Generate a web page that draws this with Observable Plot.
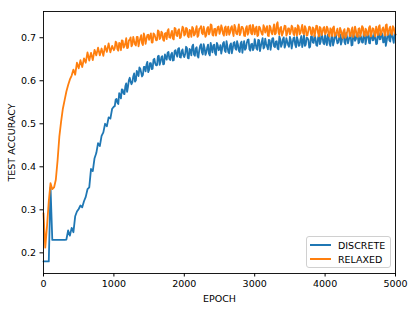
<!DOCTYPE html>
<html>
<head>
<meta charset="utf-8">
<script src="https://cdn.jsdelivr.net/npm/d3@7"></script>
<script src="https://cdn.jsdelivr.net/npm/@observablehq/plot@0.6"></script>
<style>
  html, body { margin: 0; padding: 0; background: #fff; }
  #wrap { position: relative; width: 415px; height: 310px; font-family: "DejaVu Sans", sans-serif; }
  #legend {
    position: absolute; left: 306px; top: 236px; width: 85px; height: 32px;
    border: 1px solid #d0d0d0; border-radius: 3px; background: rgba(255,255,255,0.85);
    box-sizing: border-box; font-size: 9.5px; color: #000;
  }
  .row { position: absolute; left: 0; height: 12px; display: flex; align-items: center; }
  .sw { width: 21px; height: 0; border-top: 2px solid; margin-left: 3px; margin-right: 7px; }
</style>
</head>
<body>
<div id="wrap"></div>
<script>
const seriesNames = ["DISCRETE", "RELAXED"];
const seriesColors = ["#1f77b4", "#ff7f0e"];
const xTicks = [0, 1000, 2000, 3000, 4000, 5000];
const yTicks = [0.2, 0.3, 0.4, 0.5, 0.6, 0.7];

// main samples, every 25 epochs
const epochs = [
  0,25,50,75,100,125,150,175,200,225,250,275,300,325,350,375,400,425,450,475,
  500,525,550,575,600,625,650,675,700,725,750,775,800,825,850,875,900,925,950,975,
  1000,1025,1050,1075,1100,1125,1150,1175,1200,1225,1250,1275,1300,1325,1350,1375,1400,1425,1450,1475,
  1500,1525,1550,1575,1600,1625,1650,1675,1700,1725,1750,1775,1800,1825,1850,1875,1900,1925,1950,1975,
  2000,2025,2050,2075,2100,2125,2150,2175,2200,2225,2250,2275,2300,2325,2350,2375,2400,2425,2450,2475,
  2500,2525,2550,2575,2600,2625,2650,2675,2700,2725,2750,2775,2800,2825,2850,2875,2900,2925,2950,2975,
  3000,3025,3050,3075,3100,3125,3150,3175,3200,3225,3250,3275,3300,3325,3350,3375,3400,3425,3450,3475,
  3500,3525,3550,3575,3600,3625,3650,3675,3700,3725,3750,3775,3800,3825,3850,3875,3900,3925,3950,3975,
  4000,4025,4050,4075,4100,4125,4150,4175,4200,4225,4250,4275,4300,4325,4350,4375,4400,4425,4450,4475,
  4500,4525,4550,4575,4600,4625,4650,4675,4700,4725,4750,4775,4800,4825,4850,4875,4900,4925,4950,4975,
  5000
];

const discrete = [
  .180,.180,.180,.180,.352,.230,.230,.230,.230,.230,.230,.230,.230,.231,.252,.240,.258,.248,.285,.296,
  .302,.310,.306,.320,.330,.348,.352,.395,.390,.420,.432,.455,.448,.472,.480,.500,.494,.515,.512,.535,
  .540,.556,.549,.571,.559,.579,.569,.594,.586,.607,.592,.610,.598,.623,.611,.628,.610,.632,.622,.644,
  .625,.641,.628,.651,.636,.657,.637,.655,.638,.661,.649,.667,.648,.665,.648,.671,.656,.676,.654,.673,
  .655,.679,.653,.674,.659,.684,.658,.678,.654,.681,.666,.685,.660,.677,.663,.688,.666,.684,.660,.683,
  .673,.663,.687,.670,.692,.667,.683,.664,.688,.675,.692,.670,.687,.665,.692,.675,.695,.673,.685,.671,
  .697,.675,.695,.669,.690,.675,.698,.680,.695,.672,.698,.680,.691,.675,.703,.679,.696,.677,.699,.683,
  .702,.675,.699,.684,.702,.681,.696,.678,.706,.684,.699,.677,.703,.689,.706,.683,.700,.685,.710,.688,
  .706,.683,.703,.681,.707,.690,.709,.687,.701,.684,.707,.690,.711,.687,.704,.682,.707,.693,.710,.687,
  .705,.689,.712,.685,.706,.688,.709,.694,.712,.685,.708,.696,.711,.689,.710,.693,.715,.691,.706,.688,
  .707
];

const relaxed = [
  .292,.212,.262,.320,.362,.348,.352,.370,.415,.470,.505,.535,.555,.575,.590,.603,.612,.626,.614,.642,
  .629,.648,.632,.652,.642,.666,.647,.665,.648,.672,.659,.677,.659,.675,.658,.681,.667,.687,.666,.681,
  .671,.691,.673,.688,.671,.693,.680,.699,.677,.695,.680,.702,.685,.702,.680,.699,.687,.710,.686,.706,
  .695,.710,.689,.708,.694,.717,.697,.714,.695,.710,.697,.720,.700,.716,.696,.721,.704,.720,.701,.726,
  .705,.723,.704,.718,.702,.722,.708,.727,.705,.722,.711,.726,.702,.722,.708,.731,.707,.720,.705,.725,
  .709,.729,.709,.723,.706,.726,.712,.727,.704,.724,.708,.731,.711,.725,.705,.722,.707,.728,.710,.730,
  .708,.726,.706,.723,.709,.729,.712,.727,.704,.724,.708,.731,.710,.736,.707,.725,.711,.728,.705,.722,
  .708,.728,.709,.723,.705,.726,.711,.730,.708,.722,.706,.726,.709,.724,.703,.728,.711,.725,.706,.722,
  .708,.726,.706,.722,.704,.726,.708,.721,.702,.717,.699,.720,.704,.722,.704,.718,.702,.726,.704,.721,
  .703,.727,.707,.721,.705,.724,.703,.722,.710,.726,.706,.729,.709,.724,.705,.731,.710,.726,.707,.723,
  .708
];

// extra in-between samples for the noisy plateau
const epochsMid = [
  1012.5,1037.5,1062.5,1087.5,1112.5,1137.5,1162.5,1187.5,1212.5,1237.5,1262.5,1287.5,1312.5,1337.5,1362.5,1387.5,1412.5,1437.5,1462.5,1487.5,
  1512.5,1537.5,1562.5,1587.5,1612.5,1637.5,1662.5,1687.5,1712.5,1737.5,1762.5,1787.5,1812.5,1837.5,1862.5,1887.5,1912.5,1937.5,1962.5,1987.5,
  2012.5,2037.5,2062.5,2087.5,2112.5,2137.5,2162.5,2187.5,2212.5,2237.5,2262.5,2287.5,2312.5,2337.5,2362.5,2387.5,2412.5,2437.5,2462.5,2487.5,
  2512.5,2537.5,2562.5,2587.5,2612.5,2637.5,2662.5,2687.5,2712.5,2737.5,2762.5,2787.5,2812.5,2837.5,2862.5,2887.5,2912.5,2937.5,2962.5,2987.5,
  3012.5,3037.5,3062.5,3087.5,3112.5,3137.5,3162.5,3187.5,3212.5,3237.5,3262.5,3287.5,3312.5,3337.5,3362.5,3387.5,3412.5,3437.5,3462.5,3487.5,
  3512.5,3537.5,3562.5,3587.5,3612.5,3637.5,3662.5,3687.5,3712.5,3737.5,3762.5,3787.5,3812.5,3837.5,3862.5,3887.5,3912.5,3937.5,3962.5,3987.5,
  4012.5,4037.5,4062.5,4087.5,4112.5,4137.5,4162.5,4187.5,4212.5,4237.5,4262.5,4287.5,4312.5,4337.5,4362.5,4387.5,4412.5,4437.5,4462.5,4487.5,
  4512.5,4537.5,4562.5,4587.5,4612.5,4637.5,4662.5,4687.5,4712.5,4737.5,4762.5,4787.5,4812.5,4837.5,4862.5,4887.5,4912.5,4937.5,4962.5,4987.5
];

const discreteMid = [
  .541,.558,.546,.567,.580,.570,.587,.574,.601,.598,.597,.617,.601,.617,.631,.619,.614,.632,.637,.620,
  .641,.627,.649,.640,.636,.658,.644,.657,.639,.654,.665,.651,.661,.647,.669,.661,.674,.655,.669,.659,
  .662,.676,.652,.671,.680,.661,.675,.658,.671,.685,.661,.677,.666,.684,.659,.676,.682,.664,.688,.671,
  .683,.674,.690,.667,.680,.664,.687,.674,.690,.672,.684,.667,.691,.680,.672,.688,.696,.670,.686,.676,
  .686,.672,.694,.680,.699,.678,.686,.673,.694,.684,.699,.678,.692,.673,.697,.685,.701,.683,.691,.679,
  .695,.687,.701,.678,.695,.682,.704,.691,.681,.700,.695,.679,.703,.688,.699,.681,.706,.691,.702,.685,
  .693,.707,.686,.699,.682,.703,.697,.689,.708,.692,.711,.685,.701,.695,.707,.683,.704,.697,.708,.690,
  .702,.689,.708,.697,.712,.687,.706,.695,.702,.686,.711,.697,.709,.690,.681,.706,.694,.713,.698,.711
];

const relaxedMid = [
  .676,.688,.670,.686,.694,.677,.687,.676,.694,.701,.684,.693,.682,.702,.691,.706,.683,.702,.697,.707,
  .703,.689,.710,.701,.695,.715,.700,.711,.693,.711,.716,.701,.709,.698,.723,.706,.717,.699,.714,.722,
  .708,.721,.701,.716,.725,.705,.718,.702,.721,.727,.708,.716,.706,.725,.713,.729,.705,.721,.715,.726,
  .715,.722,.705,.726,.718,.707,.723,.713,.730,.710,.719,.706,.725,.720,.704,.727,.712,.729,.708,.721,
  .721,.704,.726,.716,.707,.724,.719,.705,.728,.712,.720,.708,.731,.713,.723,.705,.718,.727,.710,.722,
  .714,.724,.706,.719,.729,.708,.721,.711,.727,.705,.717,.724,.706,.721,.714,.727,.703,.722,.712,.725,
  .712,.721,.703,.718,.723,.704,.714,.705,.723,.708,.716,.700,.713,.721,.704,.724,.708,.717,.702,.722,
  .712,.724,.704,.717,.708,.727,.711,.721,.703,.716,.726,.706,.720,.714,.729,.706,.721,.710,.727,.712
];

const rows = [];
[[discrete, discreteMid], [relaxed, relaxedMid]].forEach(([vals, mids], s) => {
  const pts = [];
  vals.forEach((v, i) => pts.push({epoch: epochs[i], acc: v, series: seriesNames[s]}));
  mids.forEach((v, i) => pts.push({epoch: epochsMid[i], acc: v, series: seriesNames[s]}));
  pts.sort((a, b) => a.epoch - b.epoch);
  rows.push(...pts);
});

const chart = Plot.plot({
  width: 415,
  height: 310,
  marginLeft: 43,
  marginRight: 20,
  marginTop: 11,
  marginBottom: 37,
  style: {fontFamily: "DejaVu Sans, sans-serif", fontSize: "9.5px", color: "#000", background: "#fff"},
  x: {domain: [0, 5000]},
  y: {domain: [0.152, 0.761]},
  color: {domain: seriesNames, range: seriesColors},
  marks: [
    Plot.line(rows, {x: "epoch", y: "acc", z: "series", stroke: "series", strokeWidth: 1.8, strokeLinejoin: "round"}),
    Plot.frame({stroke: "#000", strokeWidth: 0.9}),
    Plot.axisX({ticks: xTicks, tickFormat: d3.format("d"), tickSize: 3.5, tickPadding: 3,
      label: "EPOCH", labelAnchor: "center", labelArrow: "none", labelOffset: 28}),
    Plot.axisY({ticks: yTicks, tickFormat: d3.format(".1f"), tickSize: 3.5, tickPadding: 4,
      label: "TEST ACCURACY", labelAnchor: "center", labelArrow: "none", labelOffset: 35})
  ]
});

const wrap = document.getElementById("wrap");
wrap.appendChild(chart);

const legend = document.createElement("div");
legend.id = "legend";
seriesNames.forEach((name, i) => {
  const row = document.createElement("div");
  row.className = "row";
  row.style.top = (2 + i * 14) + "px";
  const sw = document.createElement("div");
  sw.className = "sw";
  sw.style.borderTopColor = seriesColors[i];
  const tx = document.createElement("span");
  tx.textContent = name;
  row.appendChild(sw);
  row.appendChild(tx);
  legend.appendChild(row);
});
wrap.appendChild(legend);
</script>
</body>
</html>
